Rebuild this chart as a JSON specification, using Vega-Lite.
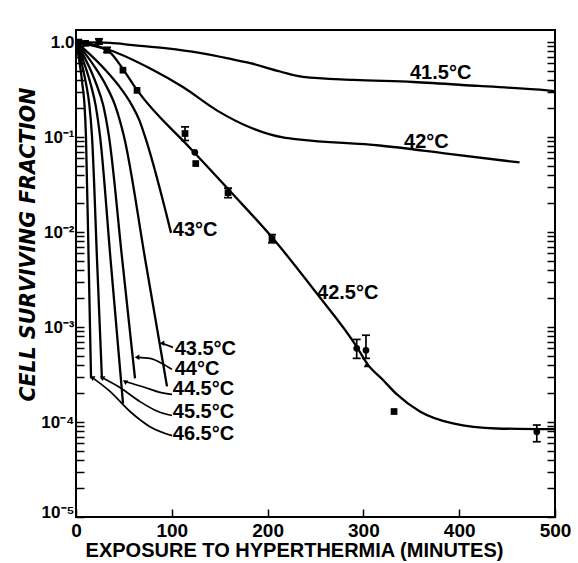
{
  "$schema": "https://vega.github.io/schema/vega-lite/v6.json",
  "width": 479,
  "height": 487,
  "autosize": {"type": "none"},
  "padding": {"left": 76, "top": 30, "right": 23, "bottom": 46},
  "background": "white",
  "config": {
    "view": {"stroke": "black", "strokeWidth": 2},
    "axis": {"grid": false, "domain": false, "tickColor": "black", "labelColor": "black", "titleColor": "black", "tickWidth": 1.5}
  },
  "datasets": {
    "curves": [
      {"curve": "41.5", "t": 0, "v": 1}, {"curve": "41.5", "t": 35.5, "v": 0.98}, {"curve": "41.5", "t": 59.5, "v": 0.93}, {"curve": "41.5", "t": 95, "v": 0.86}, {"curve": "41.5", "t": 129, "v": 0.77}, {"curve": "41.5", "t": 160, "v": 0.67}, {"curve": "41.5", "t": 182, "v": 0.6}, {"curve": "41.5", "t": 213, "v": 0.49}, {"curve": "41.5", "t": 237, "v": 0.43}, {"curve": "41.5", "t": 290, "v": 0.4}, {"curve": "41.5", "t": 352, "v": 0.38}, {"curve": "41.5", "t": 420, "v": 0.345}, {"curve": "41.5", "t": 492, "v": 0.31}, {"curve": "41.5", "t": 500, "v": 0.305},
      {"curve": "42", "t": 0, "v": 1}, {"curve": "42", "t": 35.5, "v": 0.82}, {"curve": "42", "t": 77, "v": 0.53}, {"curve": "42", "t": 112, "v": 0.334}, {"curve": "42", "t": 147, "v": 0.191}, {"curve": "42", "t": 182, "v": 0.126}, {"curve": "42", "t": 216, "v": 0.099}, {"curve": "42", "t": 234, "v": 0.094}, {"curve": "42", "t": 317, "v": 0.0815}, {"curve": "42", "t": 387, "v": 0.067}, {"curve": "42", "t": 463, "v": 0.054},
      {"curve": "42.5", "t": 0, "v": 1}, {"curve": "42.5", "t": 15, "v": 0.95}, {"curve": "42.5", "t": 35.5, "v": 0.78}, {"curve": "42.5", "t": 49, "v": 0.52}, {"curve": "42.5", "t": 64, "v": 0.31}, {"curve": "42.5", "t": 120, "v": 0.075}, {"curve": "42.5", "t": 160, "v": 0.0275}, {"curve": "42.5", "t": 205, "v": 0.0087}, {"curve": "42.5", "t": 250, "v": 0.00235}, {"curve": "42.5", "t": 293, "v": 0.00062}, {"curve": "42.5", "t": 304, "v": 0.00041}, {"curve": "42.5", "t": 320, "v": 0.00028}, {"curve": "42.5", "t": 335, "v": 0.000195}, {"curve": "42.5", "t": 359, "v": 0.000129}, {"curve": "42.5", "t": 393.5, "v": 0.0000965}, {"curve": "42.5", "t": 439, "v": 0.0000855}, {"curve": "42.5", "t": 500, "v": 0.000084},
      {"curve": "43", "t": 0, "v": 1}, {"curve": "43", "t": 9.7, "v": 0.823}, {"curve": "43", "t": 31.9, "v": 0.4935}, {"curve": "43", "t": 44.3, "v": 0.351}, {"curve": "43", "t": 58.4, "v": 0.2158}, {"curve": "43", "t": 66.2, "v": 0.1498}, {"curve": "43", "t": 72, "v": 0.1015}, {"curve": "43", "t": 99.2, "v": 0.0098},
      {"curve": "43.5", "t": 0, "v": 1}, {"curve": "43.5", "t": 6.9, "v": 0.823}, {"curve": "43.5", "t": 22.5, "v": 0.4935}, {"curve": "43.5", "t": 31.2, "v": 0.351}, {"curve": "43.5", "t": 40.8, "v": 0.2158}, {"curve": "43.5", "t": 50.1, "v": 0.1015}, {"curve": "43.5", "t": 72.5, "v": 0.00496}, {"curve": "43.5", "t": 95, "v": 0.000237},
      {"curve": "44", "t": 0, "v": 1}, {"curve": "44", "t": 4.8, "v": 0.823}, {"curve": "44", "t": 15.8, "v": 0.4935}, {"curve": "44", "t": 21.7, "v": 0.351}, {"curve": "44", "t": 28.4, "v": 0.2158}, {"curve": "44", "t": 34.4, "v": 0.1015}, {"curve": "44", "t": 48.4, "v": 0.00496}, {"curve": "44", "t": 61.6, "v": 0.000288},
      {"curve": "44.5", "t": 0, "v": 1}, {"curve": "44.5", "t": 3.4, "v": 0.823}, {"curve": "44.5", "t": 11.3, "v": 0.4935}, {"curve": "44.5", "t": 15.6, "v": 0.351}, {"curve": "44.5", "t": 20.5, "v": 0.2158}, {"curve": "44.5", "t": 25.1, "v": 0.1015}, {"curve": "44.5", "t": 36.2, "v": 0.00496}, {"curve": "44.5", "t": 49.1, "v": 0.000156},
      {"curve": "45.5", "t": 0, "v": 1}, {"curve": "45.5", "t": 2.5, "v": 0.823}, {"curve": "45.5", "t": 7.8, "v": 0.4935}, {"curve": "45.5", "t": 10.8, "v": 0.351}, {"curve": "45.5", "t": 14, "v": 0.2158}, {"curve": "45.5", "t": 16.7, "v": 0.1015}, {"curve": "45.5", "t": 22, "v": 0.00496}, {"curve": "45.5", "t": 27.1, "v": 0.000282},
      {"curve": "46.5", "t": 0, "v": 1}, {"curve": "46.5", "t": 1.6, "v": 0.823}, {"curve": "46.5", "t": 5, "v": 0.4935}, {"curve": "46.5", "t": 6.8, "v": 0.351}, {"curve": "46.5", "t": 8.9, "v": 0.2158}, {"curve": "46.5", "t": 10.4, "v": 0.1015}, {"curve": "46.5", "t": 13.2, "v": 0.00496}, {"curve": "46.5", "t": 15.7, "v": 0.000288}
    ],
    "leaders": [
      {"id": "43.5", "t": 89.8, "v": 0.000675}, {"id": "43.5", "t": 101.3, "v": 0.000611},
      {"id": "44", "t": 63.7, "v": 0.00048}, {"id": "44", "t": 77.2, "v": 0.000468}, {"id": "44", "t": 89.8, "v": 0.000414}, {"id": "44", "t": 100.2, "v": 0.000358},
      {"id": "44.5", "t": 51.1, "v": 0.000267}, {"id": "44.5", "t": 72, "v": 0.000231}, {"id": "44.5", "t": 87.7, "v": 0.000205}, {"id": "44.5", "t": 100.2, "v": 0.000195},
      {"id": "45.5", "t": 27.1, "v": 0.000295}, {"id": "45.5", "t": 45.9, "v": 0.000231}, {"id": "45.5", "t": 66.8, "v": 0.000164}, {"id": "45.5", "t": 85.6, "v": 0.000129}, {"id": "45.5", "t": 100.2, "v": 0.000117},
      {"id": "46.5", "t": 16.7, "v": 0.000295}, {"id": "46.5", "t": 35.5, "v": 0.00021}, {"id": "46.5", "t": 56.4, "v": 0.000129}, {"id": "46.5", "t": 77.2, "v": 0.0000893}, {"id": "46.5", "t": 100.2, "v": 0.0000718}
    ],
    "tips": [
      {"id": "43.5", "t": 89.8, "v": 0.000675, "dir": "left"},
      {"id": "44", "t": 63.7, "v": 0.00048, "dir": "left"},
      {"id": "44.5", "t": 51.1, "v": 0.000267, "dir": "upleft"},
      {"id": "45.5", "t": 27.1, "v": 0.000295, "dir": "upleft"},
      {"id": "46.5", "t": 16.7, "v": 0.000295, "dir": "upleft"}
    ],
    "points": [
      {"t": 3, "v": 1.0, "m": "square"}, {"t": 10, "v": 0.97, "m": "square"}, {"t": 24, "v": 1.02, "m": "square"}, {"t": 32.4, "v": 0.82, "m": "square"}, {"t": 49, "v": 0.506, "m": "square"}, {"t": 63.7, "v": 0.31, "m": "square"}, {"t": 113.8, "v": 0.109, "m": "square"}, {"t": 124, "v": 0.069, "m": "circle"}, {"t": 125, "v": 0.0526, "m": "square"}, {"t": 158.7, "v": 0.026, "m": "square"}, {"t": 204.6, "v": 0.0085, "m": "square"}, {"t": 293, "v": 0.000597, "m": "circle"}, {"t": 302.7, "v": 0.000569, "m": "circle"}, {"t": 303.8, "v": 0.000404, "m": "triangle"}, {"t": 332, "v": 0.000129, "m": "square"}, {"t": 481, "v": 0.000079, "m": "circle"}
    ],
    "errors": [
      {"t": 24, "lo": 0.95, "hi": 1.08}, {"t": 32.4, "lo": 0.78, "hi": 0.88}, {"t": 113.8, "lo": 0.092, "hi": 0.128}, {"t": 158.7, "lo": 0.023, "hi": 0.029}, {"t": 204.6, "lo": 0.0077, "hi": 0.0094}, {"t": 293, "lo": 0.000468, "hi": 0.00074}, {"t": 302.7, "lo": 0.000468, "hi": 0.00082}, {"t": 481, "lo": 0.000062, "hi": 0.000093}
    ],
    "labels": [
      {"t": 348.6, "v": 0.47, "label": "41.5°C"},
      {"t": 342.4, "v": 0.0877, "label": "42°C"},
      {"t": 251.6, "v": 0.00228, "label": "42.5°C"},
      {"t": 101, "v": 0.01055, "label": "43°C"},
      {"t": 103, "v": 0.000582, "label": "43.5°C"},
      {"t": 103, "v": 0.000358, "label": "44°C"},
      {"t": 101, "v": 0.00022, "label": "44.5°C"},
      {"t": 101, "v": 0.000129, "label": "45.5°C"},
      {"t": 101, "v": 0.0000754, "label": "46.5°C"}
    ]
  },
  "layer": [
    {
      "data": {"name": "curves"},
      "mark": {"type": "line", "color": "black", "strokeWidth": 2.3, "interpolate": "monotone"},
      "encoding": {
        "x": {
          "field": "t", "type": "quantitative",
          "scale": {"domain": [0, 500], "nice": false, "zero": false},
          "axis": {
            "values": [0, 100, 200, 300, 400, 500],
            "tickSize": -8, "labelPadding": 12,
            "labelFont": "Liberation Sans", "labelFontSize": 19, "labelFontWeight": "bold", "labelFlush": false,
            "title": "EXPOSURE TO HYPERTHERMIA (MINUTES)",
            "titleFont": "Liberation Sans", "titleFontSize": 20, "titleFontWeight": "bold",
            "titleX": 218, "titleY": 39, "titleBaseline": "alphabetic", "titleAlign": "center"
          }
        },
        "y": {
          "field": "v", "type": "quantitative",
          "scale": {"type": "log", "domain": [0.00001, 1.34], "nice": false},
          "axis": {
            "orient": "left",
            "values": [0.00001, 0.00002, 0.00003, 0.00004, 0.00005, 0.00006, 0.00007, 0.00008, 0.00009, 0.0001, 0.0002, 0.0003, 0.0004, 0.0005, 0.0006, 0.0007, 0.0008, 0.0009, 0.001, 0.002, 0.003, 0.004, 0.005, 0.006, 0.007, 0.008, 0.009, 0.01, 0.02, 0.03, 0.04, 0.05, 0.06, 0.07, 0.08, 0.09, 0.1, 0.2, 0.3, 0.4, 0.5, 0.6, 0.7, 0.8, 0.9, 1],
            "labelExpr": "abs(datum.value / pow(10, round(log(datum.value) / LN10)) - 1) < 0.01 ? (round(log(datum.value) / LN10) == 0 ? '1.0' : '10' + ['⁰', '⁻¹', '⁻²', '⁻³', '⁻⁴', '⁻⁵'][-round(log(datum.value) / LN10)]) : ''",
            "labelOverlap": false,
            "labelOffset": {"condition": {"test": "datum.value < 0.000011", "value": -5}, "value": 0},
            "tickSize": -8, "labelPadding": 10,
            "labelFont": "Liberation Sans", "labelFontSize": 17, "labelFontWeight": "bold",
            "title": "CELL SURVIVING FRACTION",
            "titleFont": "DejaVu Sans", "titleFontSize": 20.5, "titleFontStyle": "italic", "titleFontWeight": "bold",
            "titleX": -48, "titleY": 214, "titleAngle": 270, "titleAlign": "center", "titleBaseline": "middle"
          }
        },
        "detail": {"field": "curve", "type": "nominal"}
      }
    },
    {
      "data": {"name": "leaders"},
      "mark": {"type": "line", "color": "black", "strokeWidth": 1.7, "interpolate": "monotone"},
      "encoding": {
        "x": {"field": "t", "type": "quantitative", "scale": {"domain": [0, 500], "nice": false, "zero": false}},
        "y": {
          "field": "v", "type": "quantitative",
          "scale": {"type": "log", "domain": [0.00001, 1.34], "nice": false},
          "axis": {
            "orient": "right", "labels": false, "title": null, "tickSize": -8,
            "values": [0.00001, 0.00002, 0.00003, 0.00004, 0.00005, 0.00006, 0.00007, 0.00008, 0.00009, 0.0001, 0.0002, 0.0003, 0.0004, 0.0005, 0.0006, 0.0007, 0.0008, 0.0009, 0.001, 0.002, 0.003, 0.004, 0.005, 0.006, 0.007, 0.008, 0.009, 0.01, 0.02, 0.03, 0.04, 0.05, 0.06, 0.07, 0.08, 0.09, 0.1, 0.2, 0.3, 0.4, 0.5, 0.6, 0.7, 0.8, 0.9, 1]
          }
        },
        "detail": {"field": "id", "type": "nominal"}
      }
    },
    {
      "data": {"name": "tips"},
      "transform": [{"filter": "datum.dir == 'left'"}],
      "mark": {"type": "point", "shape": "triangle-left", "filled": true, "color": "black", "size": 30, "opacity": 1},
      "encoding": {
        "x": {"field": "t", "type": "quantitative", "scale": {"domain": [0, 500], "nice": false, "zero": false}},
        "y": {"field": "v", "type": "quantitative", "scale": {"type": "log", "domain": [0.00001, 1.34], "nice": false}, "axis": null}
      }
    },
    {
      "data": {"name": "tips"},
      "transform": [{"filter": "datum.dir == 'upleft'"}],
      "mark": {"type": "point", "shape": "triangle-left", "filled": true, "color": "black", "size": 30, "angle": 32, "opacity": 1},
      "encoding": {
        "x": {"field": "t", "type": "quantitative", "scale": {"domain": [0, 500], "nice": false, "zero": false}},
        "y": {"field": "v", "type": "quantitative", "scale": {"type": "log", "domain": [0.00001, 1.34], "nice": false}, "axis": null}
      }
    },
    {
      "data": {"name": "errors"},
      "mark": {"type": "rule", "color": "black", "strokeWidth": 1.7},
      "encoding": {
        "x": {"field": "t", "type": "quantitative", "scale": {"domain": [0, 500], "nice": false, "zero": false}},
        "y": {"field": "lo", "type": "quantitative", "scale": {"type": "log", "domain": [0.00001, 1.34], "nice": false}, "axis": null},
        "y2": {"field": "hi"}
      }
    },
    {
      "data": {"name": "errors"},
      "mark": {"type": "tick", "orient": "horizontal", "color": "black", "size": 8, "thickness": 1.7, "opacity": 1},
      "encoding": {
        "x": {"field": "t", "type": "quantitative", "scale": {"domain": [0, 500], "nice": false, "zero": false}},
        "y": {"field": "lo", "type": "quantitative", "scale": {"type": "log", "domain": [0.00001, 1.34], "nice": false}, "axis": null}
      }
    },
    {
      "data": {"name": "errors"},
      "mark": {"type": "tick", "orient": "horizontal", "color": "black", "size": 8, "thickness": 1.7, "opacity": 1},
      "encoding": {
        "x": {"field": "t", "type": "quantitative", "scale": {"domain": [0, 500], "nice": false, "zero": false}},
        "y": {"field": "hi", "type": "quantitative", "scale": {"type": "log", "domain": [0.00001, 1.34], "nice": false}, "axis": null}
      }
    },
    {
      "data": {"name": "points"},
      "mark": {"type": "point", "filled": true, "color": "black", "size": 45, "opacity": 1},
      "encoding": {
        "x": {"field": "t", "type": "quantitative", "scale": {"domain": [0, 500], "nice": false, "zero": false}},
        "y": {"field": "v", "type": "quantitative", "scale": {"type": "log", "domain": [0.00001, 1.34], "nice": false}, "axis": null},
        "shape": {"field": "m", "type": "nominal", "scale": {"domain": ["square", "circle", "triangle"], "range": ["square", "circle", "triangle-up"]}, "legend": null}
      }
    },
    {
      "data": {"name": "labels"},
      "mark": {"type": "text", "align": "left", "baseline": "middle", "font": "Liberation Sans", "fontSize": 20, "fontWeight": "bold", "color": "black"},
      "encoding": {
        "x": {"field": "t", "type": "quantitative", "scale": {"domain": [0, 500], "nice": false, "zero": false}},
        "y": {"field": "v", "type": "quantitative", "scale": {"type": "log", "domain": [0.00001, 1.34], "nice": false}, "axis": null},
        "text": {"field": "label", "type": "nominal"}
      }
    }
  ],
  "resolve": {"axis": {"y": "independent"}}
}
